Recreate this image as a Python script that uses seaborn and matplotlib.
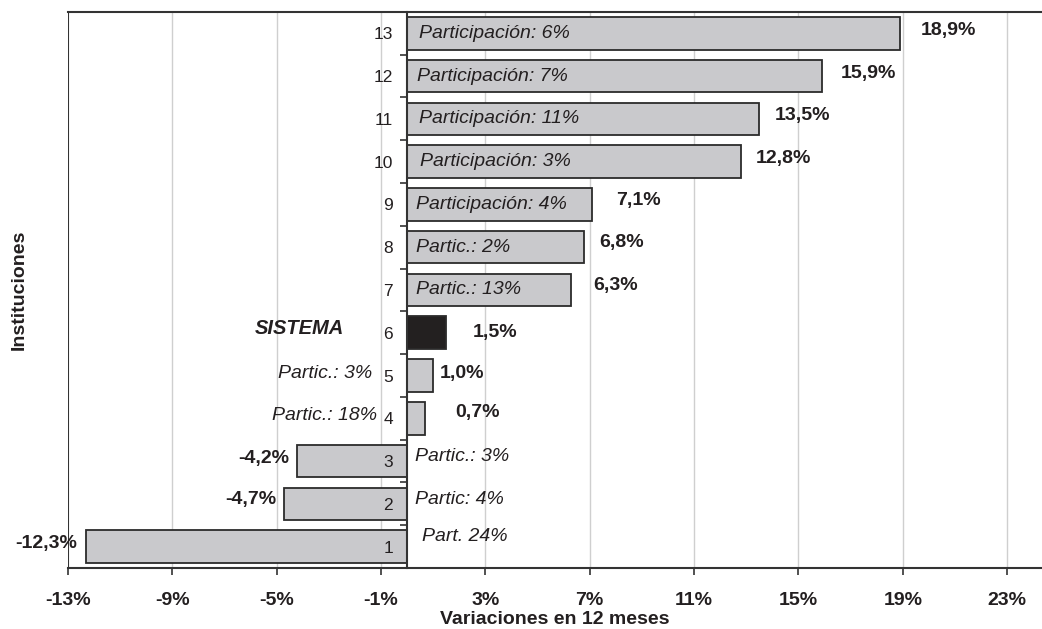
import numpy as np
import pandas as pd
import seaborn as sns
import matplotlib.pyplot as plt
from matplotlib.ticker import FixedLocator, FuncFormatter

# Datos del grafico (instituciones 1 a 13)
instituciones = ['1', '2', '3', '4', '5', '6', '7', '8', '9', '10', '11', '12', '13']
variacion = [-12.3, -4.7, -4.2, 0.7, 1.0, 1.5, 6.3, 6.8, 7.1, 12.8, 13.5, 15.9, 18.9]
etiquetas_var = ['-12,3%', '-4,7%', '-4,2%', '0,7%', '1,0%', '1,5%', '6,3%',
                 '6,8%', '7,1%', '12,8%', '13,5%', '15,9%', '18,9%']
participacion = ['Part. 24%', 'Partic: 4%', 'Partic.: 3%', 'Partic.: 18%', 'Partic.: 3%',
                 'SISTEMA', 'Partic.: 13%', 'Partic.: 2%', 'Participación: 4%',
                 'Participación: 3%', 'Participación: 11%', 'Participación: 7%',
                 'Participación: 6%']
xticks = [-13, -9, -5, -1, 3, 7, 11, 15, 19, 23]

# desplazamientos manuales de los textos (pixeles), como en el original
var_dx = [-9, -8, -8, 30, 7, 27, 22, 15, 24, 15, 15, 19, 20]
var_dy = [3, 4, 3, 6, 2, 0, 4, 5, 4, 3, 3, 3, 3]
part_dx = [15, 8, 8, -30, -35, -63, 9, 9, 9, 13, 12, 10, 12]
part_dy = [10, 4, 5, 3, 2, 4, 0, 0, 0, 0, 0, 0, 0]

df = pd.DataFrame({'inst': instituciones, 'var': variacion})
orden = instituciones[::-1]
colores = {k: ('#231f20' if k == '6' else '#c8c9cc') for k in instituciones}

sns.set_style('white')
plt.rcParams['font.family'] = ['Liberation Sans', 'DejaVu Sans']
texto = '#231f20'

fig = plt.figure(figsize=(10.42, 6.29), dpi=100)
ax = fig.add_axes([0.065, 0.097, 0.935, 0.884])

sns.barplot(data=df, x='var', y='inst', order=orden, hue='inst', palette=colores,
            legend=False, orient='h', width=0.76, edgecolor='#2b2b2b', linewidth=1.3, ax=ax)

ax.set_xlim(-13, 24.33)
ax.set_ylim(12.5, -0.5)
ax.set_axisbelow(False)
for t in xticks:
    if t != -13:
        ax.axvline(t, color='#cfcfcf', lw=1, zorder=0)

ax.set_xticks(xticks)
ax.xaxis.set_major_formatter(FuncFormatter(lambda v, p: f'{v:.0f}%'))
ax.tick_params(axis='x', bottom=True, direction='out', length=5, width=1.2, color='#333333',
               labelsize=14, labelcolor=texto, pad=12)
for lbl in ax.get_xticklabels():
    lbl.set_fontweight('bold')

ax.spines['left'].set_position(('data', 0))
ax.axvline(-13, color='#333333', lw=1.5, zorder=3)
for s in ['left', 'top', 'bottom']:
    ax.spines[s].set_visible(True)
    ax.spines[s].set_color('#333333')
    ax.spines[s].set_linewidth(1.5)
ax.spines['right'].set_visible(False)

ax.tick_params(axis='y', which='major', left=True, length=0, labelsize=12.5,
               labelcolor=texto, pad=10)
ax.yaxis.set_minor_locator(FixedLocator(np.arange(-0.5, 13, 1)))
ax.tick_params(axis='y', which='minor', left=True, direction='out', length=5, width=1.2,
               color='#333333')

ax.set_xlabel('Variaciones en 12 meses', fontsize=14, fontweight='bold', color=texto, labelpad=2)
ax.set_ylabel('Instituciones', fontsize=14, fontweight='bold', color=texto)
ax.yaxis.set_label_coords(-0.041, 0.5)

for i, (v, lab) in enumerate(zip(variacion, etiquetas_var)):
    pos = orden.index(instituciones[i])
    ax.annotate(lab, (v, pos), xytext=(var_dx[i], var_dy[i]), textcoords='offset pixels',
                ha='left' if v >= 0 else 'right', va='center', fontsize=14,
                fontweight='bold', color=texto)
    p = participacion[i]
    if p == 'SISTEMA':
        estilo = dict(fontsize=14.5, fontweight='bold', fontstyle='italic')
    else:
        estilo = dict(fontsize=14, fontstyle='italic')
    ax.annotate(p, (0, pos), xytext=(part_dx[i], part_dy[i]), textcoords='offset pixels',
                ha='left' if part_dx[i] > 0 else 'right', va='center', color=texto, **estilo)

fig.savefig('out.png', dpi=100)
